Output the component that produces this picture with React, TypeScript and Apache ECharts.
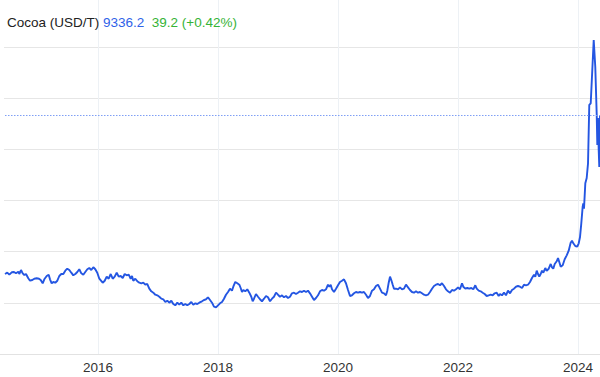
import React, { useEffect, useRef } from "react";
import * as echarts from "echarts";

const title = "Cocoa (USD/T)";
const lastPrice = 9336.2;
const changeText = "39.2 (+0.42%)";
const tickYears = [2016, 2018, 2020, 2022, 2024];

const years = [
  2014.450, 2014.488, 2014.522, 2014.562, 2014.600, 2014.633, 2014.672, 2014.688, 2014.717, 2014.745,
  2014.772, 2014.800, 2014.838, 2014.867, 2014.905, 2014.938, 2014.978, 2015.017, 2015.045, 2015.078,
  2015.105, 2015.145, 2015.178, 2015.200, 2015.228, 2015.255, 2015.288, 2015.322, 2015.355, 2015.388,
  2015.422, 2015.455, 2015.488, 2015.522, 2015.555, 2015.588, 2015.622, 2015.655, 2015.688, 2015.722,
  2015.755, 2015.788, 2015.822, 2015.855, 2015.888, 2015.922, 2015.955, 2015.988, 2016.022, 2016.078,
  2016.112, 2016.145, 2016.178, 2016.212, 2016.245, 2016.278, 2016.312, 2016.345, 2016.378, 2016.412,
  2016.445, 2016.478, 2016.512, 2016.545, 2016.567, 2016.588, 2016.622, 2016.655, 2016.688, 2016.722,
  2016.755, 2016.788, 2016.822, 2016.855, 2016.888, 2016.922, 2016.955, 2016.988, 2017.022, 2017.055,
  2017.088, 2017.122, 2017.155, 2017.188, 2017.222, 2017.255, 2017.288, 2017.322, 2017.355, 2017.388,
  2017.422, 2017.455, 2017.488, 2017.522, 2017.555, 2017.588, 2017.622, 2017.655, 2017.688, 2017.733,
  2017.767, 2017.800, 2017.833, 2017.867, 2017.900, 2017.933, 2017.967, 2018.000, 2018.033, 2018.067,
  2018.100, 2018.133, 2018.167, 2018.200, 2018.233, 2018.255, 2018.288, 2018.322, 2018.355, 2018.378,
  2018.400, 2018.422, 2018.455, 2018.488, 2018.522, 2018.555, 2018.578, 2018.600, 2018.633, 2018.667,
  2018.700, 2018.733, 2018.767, 2018.800, 2018.833, 2018.867, 2018.900, 2018.933, 2018.967, 2019.000,
  2019.033, 2019.067, 2019.100, 2019.133, 2019.167, 2019.200, 2019.233, 2019.267, 2019.300, 2019.333,
  2019.367, 2019.400, 2019.433, 2019.467, 2019.500, 2019.533, 2019.567, 2019.600, 2019.633, 2019.667,
  2019.700, 2019.733, 2019.767, 2019.800, 2019.833, 2019.855, 2019.878, 2019.900, 2019.933, 2019.967,
  2020.000, 2020.033, 2020.067, 2020.100, 2020.133, 2020.167, 2020.200, 2020.233, 2020.267, 2020.300,
  2020.333, 2020.367, 2020.400, 2020.433, 2020.467, 2020.500, 2020.533, 2020.567, 2020.600, 2020.633,
  2020.667, 2020.700, 2020.733, 2020.767, 2020.800, 2020.822, 2020.845, 2020.867, 2020.888, 2020.912,
  2020.933, 2020.967, 2021.000, 2021.033, 2021.067, 2021.100, 2021.133, 2021.167, 2021.200, 2021.233,
  2021.267, 2021.300, 2021.333, 2021.367, 2021.400, 2021.433, 2021.467, 2021.500, 2021.533, 2021.567,
  2021.600, 2021.633, 2021.667, 2021.700, 2021.733, 2021.767, 2021.800, 2021.833, 2021.867, 2021.900,
  2021.933, 2021.967, 2022.000, 2022.033, 2022.067, 2022.088, 2022.122, 2022.155, 2022.188, 2022.222,
  2022.255, 2022.288, 2022.312, 2022.345, 2022.378, 2022.412, 2022.445, 2022.478, 2022.512, 2022.545,
  2022.578, 2022.612, 2022.645, 2022.678, 2022.700, 2022.733, 2022.767, 2022.800, 2022.833, 2022.867,
  2022.900, 2022.933, 2022.967, 2023.000, 2023.033, 2023.067, 2023.100, 2023.133, 2023.167, 2023.200,
  2023.233, 2023.267, 2023.288, 2023.312, 2023.333, 2023.355, 2023.378, 2023.400, 2023.422, 2023.455,
  2023.478, 2023.512, 2023.545, 2023.567, 2023.588, 2023.612, 2023.645, 2023.667, 2023.688, 2023.712,
  2023.745, 2023.778, 2023.812, 2023.845, 2023.878, 2023.900, 2023.922, 2023.955, 2023.988, 2024.012,
  2024.033, 2024.055, 2024.078, 2024.088, 2024.100, 2024.122, 2024.145, 2024.167, 2024.188, 2024.212,
  2024.262, 2024.288, 2024.312, 2024.322, 2024.333, 2024.345, 2024.355, 2024.367,
];

const prices = [
  3125, 3176, 3098, 3191, 3203, 3152, 3215, 3125, 3281, 3152,
  3086, 3125, 2957, 2863, 2891, 2941, 2957, 2941, 2891, 2762,
  2918, 3047, 3098, 2918, 2762, 2813, 2785, 2863, 3047, 3125,
  3125, 3254, 3332, 3281, 3176, 3074, 3125, 3203, 3309, 3152,
  3098, 3203, 3309, 3359, 3281, 3387, 3309, 3176, 2941, 2785,
  2863, 3020, 2941, 3125, 2941, 3020, 3176, 3020, 3047, 2969,
  3125, 3074, 3098, 2941, 3047, 2863, 2941, 2840, 2785, 2762,
  2785, 2707, 2734, 2551, 2449, 2395, 2316, 2293, 2238, 2160,
  2137, 2031, 2082, 2004, 2082, 1953, 1902, 2004, 1926, 2004,
  1902, 1953, 1902, 1953, 2031, 1926, 1980, 1953, 2004, 2059,
  2109, 2137, 2215, 2109, 2004, 1848, 1824, 1902, 1980, 2031,
  2160, 2316, 2422, 2551, 2473, 2629, 2813, 2762, 2707, 2578,
  2422, 2500, 2449, 2527, 2395, 2238, 2059, 2160, 2344, 2238,
  2137, 2059, 2160, 2266, 2215, 2059, 2160, 2238, 2395, 2316,
  2238, 2293, 2215, 2266, 2188, 2238, 2371, 2395, 2344, 2395,
  2449, 2422, 2473, 2422, 2473, 2371, 2238, 2109, 2188, 2293,
  2449, 2500, 2473, 2527, 2707, 2629, 2707, 2527, 2422, 2551,
  2684, 2813, 2863, 2918, 2762, 2500, 2266, 2293, 2371, 2422,
  2395, 2422, 2395, 2422, 2316, 2188, 2266, 2473, 2527, 2656,
  2707, 2551, 2395, 2371, 2293, 2473, 2785, 3020, 2891, 2707,
  2551, 2551, 2527, 2605, 2527, 2551, 2707, 2605, 2500, 2422,
  2395, 2449, 2395, 2422, 2371, 2316, 2293, 2316, 2422, 2551,
  2656, 2707, 2734, 2684, 2762, 2656, 2527, 2449, 2395, 2500,
  2473, 2527, 2605, 2527, 2762, 2629, 2551, 2578, 2551, 2578,
  2527, 2684, 2551, 2473, 2449, 2395, 2344, 2266, 2293, 2316,
  2293, 2371, 2395, 2266, 2344, 2293, 2395, 2293, 2473, 2371,
  2500, 2551, 2629, 2656, 2629, 2578, 2707, 2684, 2707, 2813,
  2969, 3098, 3020, 3254, 3125, 3020, 3125, 3254, 3176, 3359,
  3254, 3332, 3516, 3387, 3332, 3516, 3621, 3750, 3594, 3410,
  3465, 3699, 3855, 4035, 4348, 4426, 4324, 4219, 4191, 4324,
  4559, 5105, 5754, 5887, 5676, 6668, 6875, 7449, 9727, 9793,
  12266, 11223, 9336, 8164, 9219, 7969, 7305, 9336.2,
];

export default function App() {
  const ref = useRef<HTMLDivElement>(null);
  useEffect(() => {
    if (!ref.current) return;
    const chart = echarts.init(ref.current, undefined, { renderer: "svg" });
    const data = years.map((y, i) => [y, prices[i]]);
    const font = "'Liberation Sans', Arial, Helvetica, sans-serif";
    chart.setOption({
      animation: false,
      backgroundColor: "#ffffff",
      title: {
        left: 7,
        top: 15,
        padding: 0,
        text: `{a|${title}} {b|${lastPrice.toFixed(1)}}  {c|${changeText}}`,
        textStyle: {
          fontFamily: font,
          fontSize: 13.5,
          fontWeight: "normal",
          rich: {
            a: { color: "#222222", fontSize: 13.5, fontFamily: font },
            b: { color: "#2f62e8", fontSize: 13.5, fontFamily: font },
            c: { color: "#36b336", fontSize: 13.5, fontFamily: font },
          },
        },
      },
      grid: {
        left: -22,
        right: 0,
        top: -4.4,
        bottom: 23,
        containLabel: false,
        outerBoundsMode: "none",
      },
      xAxis: {
        type: "value",
        min: 2014,
        max: 2024.3667,
        interval: 2,
        axisLine: { show: true, lineStyle: { color: "#e2e2e2", width: 1 } },
        axisTick: { show: false },
        axisLabel: {
          show: true,
          margin: 6,
          color: "#333333",
          fontSize: 13.5,
          fontFamily: font,
          showMinLabel: false,
          showMaxLabel: false,
          hideOverlap: false,
          formatter: (v: number) => (tickYears.includes(Math.round(v * 1000) / 1000) ? String(v) : ""),
        },
        splitLine: { show: true, lineStyle: { color: "#edf1f5", width: 1 } },
      },
      yAxis: {
        type: "value",
        min: 0,
        max: 14000,
        interval: 2000,
        axisLine: { show: false },
        axisTick: { show: false },
        axisLabel: { show: false },
        splitLine: { show: true, lineStyle: { color: "#e6e6e6", width: 1 } },
      },
      graphic: [
        {
          type: "rect",
          left: 0,
          top: 0,
          z: 100,
          shape: { width: 4, height: 350 },
          style: { fill: "#ffffff" },
        },
      ],
      series: [
        {
          type: "line",
          data,
          showSymbol: false,
          symbol: "none",
          smooth: false,
          lineStyle: { color: "#2456e2", width: 1.9 },
          markLine: {
            silent: true,
            symbol: "none",
            label: { show: false },
            lineStyle: { color: "#7f9ff5", type: [1.5, 1.5], width: 1 },
            data: [{ yAxis: lastPrice }],
          },
        },
      ],
    });
    return () => chart.dispose();
  }, []);
  return (
    <div
      ref={ref}
      style={{ position: "fixed", left: 0, top: 0, width: 600, height: 377 }}
    />
  );
}
